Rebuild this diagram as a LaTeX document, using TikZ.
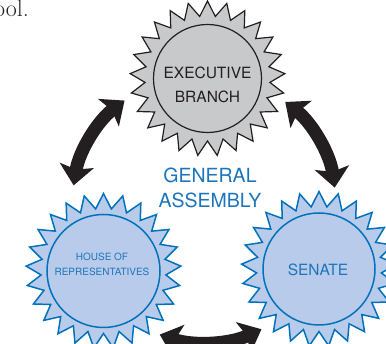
\documentclass[tikz,border=0pt]{standalone}
\usepackage{fontspec}
\newfontfamily\heros{TeX Gyre Heros}
\usetikzlibrary{shapes.geometric,arrows.meta}
\definecolor{ink}{RGB}{35,31,32}
\definecolor{branchgray}{RGB}{200,201,203}
\definecolor{housefill}{RGB}{185,203,234}
\definecolor{houseline}{RGB}{0,114,188}
\definecolor{housetext}{RGB}{28,117,188}

\begin{document}
\begin{tikzpicture}[x=1pt, y=1pt,
	burst/.style = {star, star points=25, star point ratio=1.24, minimum size=155pt,
		inner sep=0pt, line join=miter},
	disc/.style = {circle, minimum size=#1, inner sep=0pt},
	grayseal/.style = {fill=branchgray, draw=ink, line width=1.2pt},
	blueseal/.style = {fill=housefill, draw=houseline, line width=1.5pt},
	tag/.style = {text=housetext, align=center, inner sep=0pt},
	swing/.style = {ink, line width=13pt,
		{Stealth[length=20pt,width=34pt,inset=4pt]}-{Stealth[length=20pt,width=34pt,inset=4pt]}}]
	\clip (0,0) rectangle (386,344);
	% end of the paragraph above
	\node[font=\fontsize{24}{28}\selectfont, text=ink, anchor=base east, inner sep=0pt] (tail) at (29,327) {ool.};
	% the three branches
	\node[burst, grayseal] (branch) at (207.5,265.5) {};
	\node[disc=108pt, grayseal] (branchcore) at (branch) {};
	\node[tag, text=ink, font=\heros\fontsize{15.5}{24}\selectfont] (branchtext) at (207.5,259) {EXECUTIVE\\BRANCH};
	\node[burst, blueseal] (house) at (103.5,73) {};
	\node[disc=113pt, blueseal] (housecore) at (house) {};
	\node[tag, font=\heros\fontsize{10}{15}\selectfont] (housetext) at (102,79.5) {HOUSE OF\\REPRESENTATIVES};
	\node[burst, blueseal] (senate) at (319,75) {};
	\node[disc=112pt, blueseal] (senatecore) at (senate) {};
	\node[tag, font=\heros\fontsize{15.5}{18}\selectfont] (senatetext) at (318,74) {SENATE};
	\node[tag, font=\heros\fontsize{19.5}{25}\selectfont] (assembly) at (210,156.5) {GENERAL\\ASSEMBLY};
	% arrows between them
	\coordinate (hub) at (204,138);
	\draw[swing] ([shift={(127:132)}]hub) arc[start angle=127, end angle=171, radius=132];
	\draw[swing] ([shift={(8:132)}]hub) arc[start angle=8, end angle=52, radius=132];
	\draw[swing] ([shift={(251:136)}]hub) arc[start angle=251, end angle=295, radius=136];
\end{tikzpicture}
\end{document}
